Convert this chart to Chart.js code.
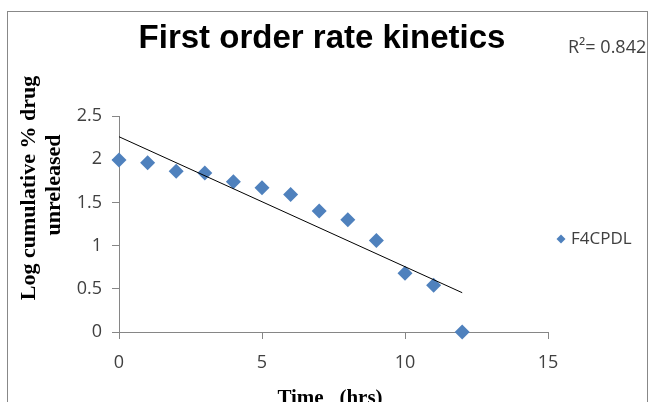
<!DOCTYPE html>
<html lang="en">
<head>
<meta charset="UTF-8">
<title>First order rate kinetics</title>
<script src="https://cdn.jsdelivr.net/npm/chart.js"></script>
<style>
  body { margin: 0; background: #fff; }
  canvas { display: block; }
</style>
</head>
<body>
<canvas id="chart" width="651" height="402"></canvas>
<script>
  // values
  const timeHrs = [0, 1, 2, 3, 4, 5, 6, 7, 8, 9, 10, 11, 12];
  const logUnreleased = [1.99, 1.96, 1.86, 1.84, 1.74, 1.67, 1.59, 1.40, 1.30, 1.06, 0.68, 0.54, 0.00];
  const trendX = [0, 12];
  const trendY = [2.26, 0.455];
  const xTicks = [0, 5, 10, 15];
  const yTicks = [0, 0.5, 1, 1.5, 2, 2.5];
  const seriesName = 'F4CPDL';
  const rSquaredText = 'R\u00B2= 0.842';
  const chartTitle = 'First order rate kinetics';
  const yTitle = ['Log cumulative % drug', 'unreleased'];
  const xTitle = 'Time   (hrs)';

  const blue = '#4F81BD';
  const axisGray = '#868686';
  const textGray = '#404040';
  const tickFont = { family: 'Open Sans', size: 18 };

  const decor = {
    id: 'decor',
    beforeDraw(chart) {
      const c = chart.ctx;
      c.save();
      c.fillStyle = '#fff';
      c.fillRect(0, 0, chart.width, chart.height);
      c.strokeStyle = '#888';
      c.lineWidth = 1;
      c.strokeRect(7.5, 11.5, 640, 420);
      c.restore();
    },
    afterDraw(chart) {
      const c = chart.ctx;
      c.save();
      c.beginPath();
      c.rect(8, 12, 639, 400);
      c.clip();

      // main title
      c.fillStyle = '#000';
      c.font = 'bold 33px "Liberation Sans"';
      c.textAlign = 'center';
      c.textBaseline = 'alphabetic';
      c.fillText(chartTitle, 322, 48);

      // R squared
      c.fillStyle = textGray;
      c.font = '18px "Open Sans"';
      c.textAlign = 'left';
      c.fillText(rSquaredText, 568, 53);

      // y axis title, two lines
      c.fillStyle = '#000';
      c.font = 'bold 22px "Liberation Serif"';
      c.textAlign = 'center';
      c.textBaseline = 'middle';
      c.save();
      c.translate(29, 188);
      c.rotate(-Math.PI / 2);
      c.fillText(yTitle[0], 0, 0);
      c.restore();
      c.save();
      c.translate(54, 185);
      c.rotate(-Math.PI / 2);
      c.fillText(yTitle[1], 0, 0);
      c.restore();

      // x axis title
      c.font = 'bold 21px "Liberation Serif"';
      c.textBaseline = 'alphabetic';
      c.fillText(xTitle, 330, 404);

      // legend
      const ds = chart.data.datasets.find(d => d.label === seriesName);
      c.fillStyle = ds.backgroundColor;
      c.beginPath();
      c.moveTo(561, 234.5);
      c.lineTo(565.5, 239);
      c.lineTo(561, 243.5);
      c.lineTo(556.5, 239);
      c.closePath();
      c.fill();
      c.fillStyle = textGray;
      c.font = '17px "Open Sans"';
      c.textAlign = 'left';
      c.textBaseline = 'middle';
      c.fillText(ds.label, 571, 239);
      c.restore();
    }
  };

  const ctx = document.getElementById('chart').getContext('2d');
  new Chart(ctx, {
    type: 'scatter',
    data: {
      datasets: [
        {
          label: 'trend',
          data: trendX.map((x, i) => ({ x: x, y: trendY[i] })),
          showLine: true,
          pointRadius: 0,
          borderColor: '#000',
          borderWidth: 1,
          fill: false
        },
        {
          label: seriesName,
          data: timeHrs.map((t, i) => ({ x: t, y: logUnreleased[i] })),
          pointStyle: 'rectRot',
          pointRadius: 7.5,
          pointHoverRadius: 7.5,
          backgroundColor: blue,
          borderColor: blue,
          borderWidth: 0,
          clip: false
        }
      ]
    },
    options: {
      responsive: false,
      animation: false,
      events: [],
      layout: { padding: { left: 67, top: 116, right: 103, bottom: 30 } },
      plugins: {
        legend: { display: false },
        title: { display: false },
        tooltip: { enabled: false }
      },
      scales: {
        x: {
          type: 'linear',
          min: 0,
          max: 15,
          afterBuildTicks: s => { s.ticks = xTicks.map(v => ({ value: v })); },
          afterFit: s => { s.height = 40; },
          grid: { drawOnChartArea: false, tickLength: 7, color: axisGray },
          border: { color: axisGray },
          ticks: { font: tickFont, color: textGray, padding: 13, maxRotation: 0, callback: v => String(v) }
        },
        y: {
          type: 'linear',
          min: 0,
          max: 2.5,
          afterBuildTicks: s => { s.ticks = yTicks.map(v => ({ value: v })); },
          afterFit: s => { s.width = 52; },
          grid: { drawOnChartArea: false, tickLength: 7, color: axisGray },
          border: { color: axisGray },
          ticks: { font: tickFont, color: textGray, padding: 10, callback: v => String(v) }
        }
      }
    },
    plugins: [decor]
  });
</script>
</body>
</html>
